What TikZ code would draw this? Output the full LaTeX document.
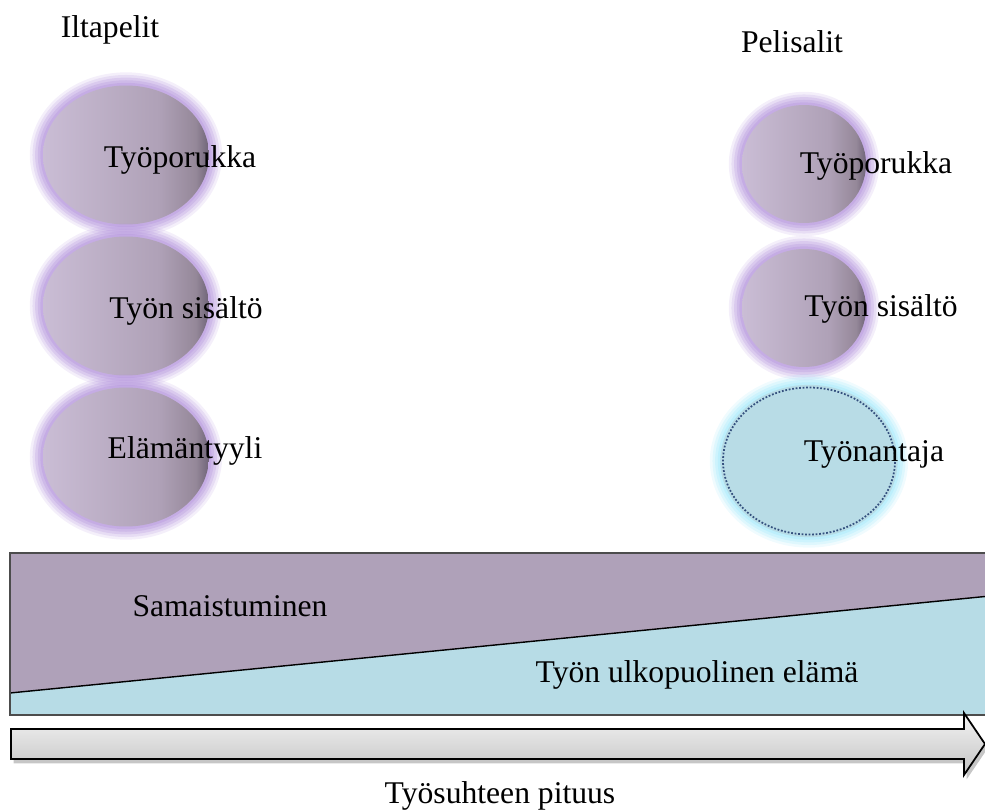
\documentclass[tikz,border=0pt]{standalone}
\usepackage{fontspec}
\setmainfont{Liberation Serif}
\usepackage{xcolor}
\definecolor{bubL}{HTML}{CABDD5}
\definecolor{bubM}{HTML}{AFA1B7}
\definecolor{bubD}{HTML}{958899}
\definecolor{bubE}{HTML}{6F6478}
\definecolor{bubglow}{HTML}{B393DC}
\definecolor{empfill}{HTML}{B8DCE6}
\definecolor{empglow}{HTML}{98E6FA}
\definecolor{empdot}{HTML}{34507E}
\definecolor{samafill}{HTML}{AFA1B9}
\definecolor{ulkofill}{HTML}{B7DCE6}
\definecolor{arrtop}{HTML}{F4F4F4}
\definecolor{arrbot}{HTML}{C2C2C2}
\usepackage{tikz}
\usetikzlibrary{shapes.geometric,shadows}
\pgfdeclarehorizontalshading{bubshade}{100bp}{color(0bp)=(bubL); color(25bp)=(bubL);
  color(60bp)=(bubM); color(71bp)=(bubD); color(75bp)=(bubE); color(100bp)=(bubE)}
\tikzset{
  glowring/.style={preaction={draw=#1, solid, line width=15pt, opacity=0.15},
                   preaction={draw=#1, solid, line width=12pt, opacity=0.2},
                   preaction={draw=#1, solid, line width=9pt, opacity=0.25},
                   preaction={draw=#1, solid, line width=6pt, opacity=0.3},
                   preaction={draw=#1, solid, line width=3pt, opacity=0.35}},
  bubble/.style  ={ellipse, inner sep=0pt, shading=bubshade, glowring=bubglow},
  employer/.style={ellipse, inner sep=0pt, fill=empfill, draw=empdot,
                   densely dotted, line width=1pt, glowring=empglow,
                   preaction={draw=empfill, solid, line width=3pt}},
  lbl/.style     ={font=\fontsize{18}{21}\selectfont, text=black, inner sep=0pt},
  timearrow/.style={draw=black, line width=1pt, top color=arrtop, bottom color=arrbot,
                   drop shadow={shadow xshift=1.5pt, shadow yshift=-2.5pt, opacity=0.45}},
}

\begin{document}
\begin{tikzpicture}[x=0.02cm, y=-0.02cm]
  \useasboundingbox (0,0) rectangle (985,811);
  % column titles
  \node[lbl] (ilta) at (110,30) {Iltapelit};
  \node[lbl] (peli) at (792,42) {Pelisalit};
  % left column
  \foreach \n/\y in {lporukka/155, lsisalto/306, lelama/457}{
    \node[bubble, minimum width=3.32cm, minimum height=2.78cm] (\n) at (126,\y) {};}
  \node[lbl] (lporukkat) at (180,160) {Työporukka};
  \node[lbl] (lsisaltot) at (186,311) {Työn sisältö};
  \node[lbl] (lelamat)   at (185,451) {Elämäntyyli};
  % right column
  \foreach \n/\y in {rporukka/164, rsisalto/308}{
    \node[bubble, minimum width=2.48cm, minimum height=2.36cm] (\n) at (804,\y) {};}
  \node[employer, minimum width=3.44cm, minimum height=2.94cm] (rantaja) at (809,461) {};
  \node[lbl] (rporukkat) at (876,166) {Työporukka};
  \node[lbl] (rsisaltot) at (881,309) {Työn sisältö};
  \node[lbl] (rantajat)  at (874,454) {Työnantaja};
  % balance band
  \fill[samafill] (10,553) rectangle (990,715);
  \fill[ulkofill] (10,693) -- (990,596) -- (990,715) -- (10,715) -- cycle;
  \draw[black, line width=0.8pt] (10,693) -- (990,596);
  \draw[black!70, line width=0.8pt] (10,553) rectangle (990,715);
  \node[lbl] (sama) at (230,606) {Samaistuminen};
  \node[lbl] (ulko) at (697,675) {Työn ulkopuolinen elämä};
  % time arrow
  \draw[timearrow] (11,729) -- (964,729) -- (964,713) -- (985,744) -- (964,775)
    -- (964,759) -- (11,759) -- cycle;
  \node[lbl] (pituus) at (500,796) {Työsuhteen pituus};
\end{tikzpicture}
\end{document}
